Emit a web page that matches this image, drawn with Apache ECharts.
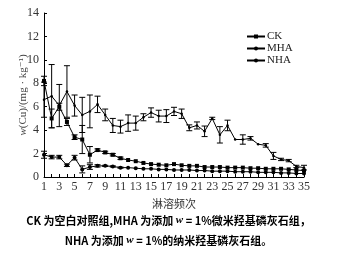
<!DOCTYPE html>
<html>
<head>
<meta charset="utf-8">
<script src="https://cdn.jsdelivr.net/npm/echarts@6/dist/echarts.min.js"></script>
<style>
    html, body { margin: 0; padding: 0; background: #fff; }
    #chart { width: 337px; height: 255px; }
</style>
</head>
<body>
<!-- 淋溶曲线 -->
<div id="chart"></div>
<script>
// 淋溶频次 1..35
var times = []
for (var i = 1; i <= 35; i++) times.push(String(i))

// 各处理的 Cu 含量 (mg/kg)
var ckData = [8.2, 5.0, 6.0, 4.7, 3.4, 3.2, 1.9, 2.3, 2.1, 1.9, 1.6, 1.45, 1.35, 1.2, 1.1, 1.05, 1.0, 1.1, 1.0, 0.95,
    0.95, 0.85, 0.85, 0.85, 0.8, 0.8, 0.8, 0.75, 0.75, 0.7, 0.7, 0.7, 0.65, 0.6, 0.55]
var mhaData = [6.6, 6.9, 6.1, 7.3, 6.1, 5.3, 5.6, 6.2, 5.3, 4.4, 4.3, 4.6, 4.6, 5.1, 5.5, 5.2, 5.2, 5.6, 5.4, 4.2,
    4.4, 3.9, 5.0, 3.6, 4.4, 3.2, 3.2, 3.3, 2.8, 2.7, 1.8, 1.5, 1.4, 0.9, 0.8]
var nhaData = [1.9, 1.7, 1.7, 1.0, 1.65, 0.65, 0.85, 0.95, 0.95, 0.9, 0.8, 0.8, 0.75, 0.7, 0.7, 0.65, 0.65, 0.6, 0.6, 0.6,
    0.55, 0.55, 0.5, 0.5, 0.5, 0.45, 0.45, 0.45, 0.4, 0.4, 0.4, 0.35, 0.35, 0.3, 0.3]

// 标准差（误差线半长）
var ckErr = [0.4, 0.8, 0.3, 0.3, 0.2, 1.2, 0.7, 0.1, 0.1, 0.1, 0.1, 0, 0, 0, 0, 0, 0, 0, 0, 0,
    0, 0, 0, 0, 0, 0, 0, 0, 0, 0, 0, 0, 0, 0, 0]
var mhaErr = [1.5, 2.7, 1.8, 2.2, 0.9, 1.5, 1.4, 0.7, 0.5, 0.6, 0.55, 0.7, 0.6, 0.3, 0.4, 0.5, 0.55, 0.35, 0.4, 0.25,
    0.3, 0.45, 0.1, 0.7, 0.45, 0, 0.4, 0.15, 0, 0.15, 0.3, 0.1, 0.1, 0.1, 0.2]
var nhaErr = [0.3, 0.15, 0.15, 0.1, 0.2, 0.3, 0.2, 0.1, 0.05, 0.05, 0.05, 0, 0, 0, 0, 0, 0, 0, 0, 0,
    0, 0, 0, 0, 0, 0, 0, 0, 0, 0, 0, 0, 0, 0, 0]

var yTicks = [0, 2, 4, 6, 8, 10, 12, 14]

function errData (vals, errs) {
    return vals.map(function (v, i) {
        return [i, v - errs[i], v + errs[i]]
    })
}

function renderErr (params, api) {
    var lo = api.coord([api.value(0), api.value(1)])
    var hi = api.coord([api.value(0), api.value(2)])
    if (Math.abs(hi[1] - lo[1]) < 1) return null
    var w = 3
    var style = { stroke: '#000', lineWidth: 1 }
    return {
        type: 'group',
        children: [
            { type: 'line', shape: { x1: lo[0], y1: lo[1], x2: hi[0], y2: hi[1] }, style: style },
            { type: 'line', shape: { x1: lo[0] - w, y1: lo[1], x2: lo[0] + w, y2: lo[1] }, style: style },
            { type: 'line', shape: { x1: hi[0] - w, y1: hi[1], x2: hi[0] + w, y2: hi[1] }, style: style }
        ]
    }
}

var serif = '"Liberation Serif", "DejaVu Serif", serif'
var cjk = '"Noto Sans CJK SC", sans-serif'

var myChart = echarts.init(document.getElementById('chart'))
myChart.setOption({
    animation: false,
    grid: { left: 44, right: 33, top: 13, bottom: 78 },
    legend: {
        orient: 'vertical',
        left: 241,
        top: 26,
        itemWidth: 18,
        itemHeight: 5,
        itemGap: 1,
        textStyle: { fontFamily: serif, fontSize: 11, color: '#222', padding: [0, 0, 0, -3] },
        data: ['CK', 'MHA', 'NHA']
    },
    xAxis: {
        type: 'category',
        boundaryGap: false,
        data: times,
        name: '淋溶频次',
        nameLocation: 'middle',
        nameGap: 18,
        nameTextStyle: { fontFamily: cjk, fontSize: 11, color: '#333' },
        axisLine: { lineStyle: { color: '#000', width: 1 } },
        axisTick: { inside: true, length: 3, interval: 0, lineStyle: { color: '#000' } },
        axisLabel: { interval: 1, fontFamily: serif, fontSize: 12, color: '#333', margin: 4 }
    },
    yAxis: {
        type: 'value',
        min: yTicks[0],
        max: yTicks[yTicks.length - 1],
        interval: 2,
        name: '{i|w}(Cu)/(mg · kg⁻¹)',
        nameLocation: 'middle',
        nameGap: 15,
        nameMoveOverlap: false,
        nameTextStyle: {
            fontFamily: serif, fontSize: 11, color: '#444',
            rich: { i: { fontFamily: serif, fontStyle: 'italic', fontSize: 11, color: '#444' } }
        },
        axisLine: { show: true, lineStyle: { color: '#000', width: 1 } },
        axisTick: { show: true, inside: true, length: 3, lineStyle: { color: '#000' } },
        axisLabel: { fontFamily: serif, fontSize: 12, color: '#333', margin: 5 },
        splitLine: { show: false }
    },
    series: [
        {
            name: 'CK', type: 'line', data: ckData,
            symbol: 'rect', symbolSize: 4,
            lineStyle: { color: '#000', width: 1 },
            itemStyle: { color: '#000' }
        },
        {
            name: 'MHA', type: 'line', data: mhaData,
            symbol: 'circle', symbolSize: 2.5,
            lineStyle: { color: '#000', width: 1 },
            itemStyle: { color: '#000' }
        },
        {
            name: 'NHA', type: 'line', data: nhaData,
            symbol: 'circle', symbolSize: 4,
            lineStyle: { color: '#000', width: 1 },
            itemStyle: { color: '#000' }
        },
        { type: 'custom', renderItem: renderErr, data: errData(ckData, ckErr), z: 3 },
        { type: 'custom', renderItem: renderErr, data: errData(mhaData, mhaErr), z: 3 },
        { type: 'custom', renderItem: renderErr, data: errData(nhaData, nhaErr), z: 3 }
    ],
    graphic: [
        {
            type: 'text', left: 'center', top: 215,
            style: {
                text: '{a|CK 为空白对照组,MHA 为添加 }{i|w}{a| = 1%微米羟基磷灰石组，}',
                rich: {
                    a: { fontFamily: cjk, fontSize: 11, fontWeight: 'bold', fill: '#000' },
                    i: { fontFamily: serif, fontSize: 11, fontStyle: 'italic', fontWeight: 'bold', fill: '#000' }
                }
            }
        },
        {
            type: 'text', left: 'center', top: 235,
            style: {
                text: '{a|NHA 为添加 }{i|w}{a| = 1%的纳米羟基磷灰石组。}',
                rich: {
                    a: { fontFamily: cjk, fontSize: 11, fontWeight: 'bold', fill: '#000' },
                    i: { fontFamily: serif, fontSize: 11, fontStyle: 'italic', fontWeight: 'bold', fill: '#000' }
                }
            }
        }
    ]
})
window.addEventListener('resize', function () {
    myChart.resize()
})
</script>
</body>
</html>
